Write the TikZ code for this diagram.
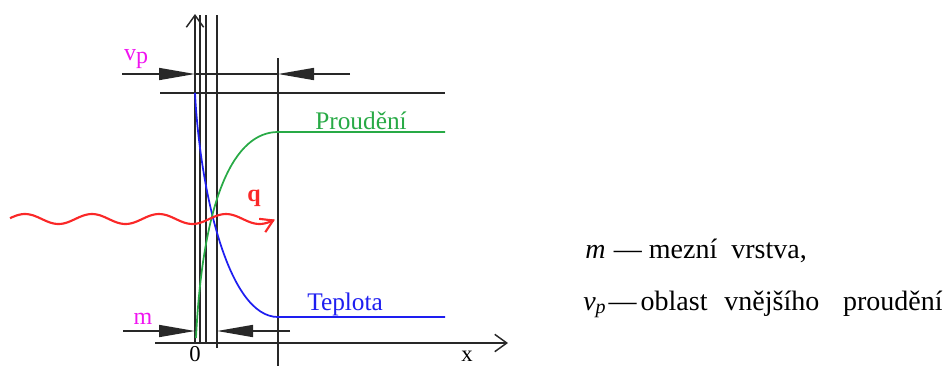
\documentclass[tikz,border=0pt]{standalone}
\usepackage{fontspec}
\setmainfont{Liberation Serif}
\usetikzlibrary{arrows.meta}
\definecolor{ink}{RGB}{40,40,40}
\definecolor{cgreen}{RGB}{40,170,70}
\definecolor{cblue}{RGB}{30,30,240}
\definecolor{cred}{RGB}{250,40,40}
\definecolor{cmag}{RGB}{240,20,240}
\tikzset{
  frame/.style={draw=ink, line width=1.2pt},
  fillarrow/.style={-{Triangle[length=27pt,width=9pt]}},
  openarrow/.style={-{Straight Barb[length=9pt,width=13pt,line width=1.1pt]}},
  lbl/.style={inner sep=0pt, font=\fontsize{16}{18}\selectfont},
  biglbl/.style={inner sep=0pt, anchor=base west, font=\fontsize{19}{22}\selectfont},
  legend/.style={inner sep=0pt, anchor=base west, font=\fontsize{21}{24}\selectfont},
}
\begin{document}
\begin{tikzpicture}[x=0.75pt,y=-0.75pt]
\useasboundingbox (0,0) rectangle (944,365);
% coordinates
\coordinate (ax0) at (195,343);
\coordinate (axT) at (195,14);
\coordinate (xax0) at (155,343);
\coordinate (xaxE) at (508,343);
% vertical lines
\draw[frame,openarrow] (ax0) -- (axT);
\draw[frame] (200,343) -- (200,15);
\draw[frame] (206,343) -- (206,15);
\draw[frame] (217,348) -- (217,15);
\draw[frame] (278,58) -- (278,370);
% x axis
\draw[frame,openarrow] (xax0) -- (xaxE);
% top horizontal lines
\coordinate (vpL) at (122,74);
\coordinate (vpA) at (195,74);
\coordinate (vpB) at (278,74);
\coordinate (vpR) at (350,74);
\draw[frame,fillarrow] (vpL) -- (vpA);
\draw[frame] (vpA) -- (vpB);
\draw[frame,fillarrow] (vpR) -- (vpB);
\draw[frame] (160,93) -- (445,93);
% bottom arrows (m)
\coordinate (mL) at (123,331);
\coordinate (mA) at (195,331);
\coordinate (mB) at (217,331);
\coordinate (mR) at (290,331);
\draw[frame,fillarrow] (mL) -- (mA);
\draw[frame,fillarrow] (mR) -- (mB);
% curves
\draw[cblue, line width=1.3pt] (195,93) .. controls (200,190) and (228,317) .. (278,317) -- (445,317);
\draw[cgreen, line width=1.3pt] (196,338) .. controls (203,195) and (235,132) .. (278,132) -- (445,132);
% red wave
\draw[cred, line width=1.6pt, -{Straight Barb[length=9pt,width=11pt]}]
  plot[domain=10:275, samples=120, smooth] (\x, {219 - 5*cos(5.3731*(\x-25))});
% labels
\node[biglbl, text=cgreen] (prl) at (315,129) {Proudění};
\node[biglbl, text=cblue] (tel) at (307,310) {Teplota};
\node[lbl, text=cred, font=\fontsize{18}{20}\selectfont\bfseries] (ql) at (254,198) {q};
\node[lbl, text=cmag, font=\fontsize{18}{20}\selectfont] (vpl) at (136,59) {v\raisebox{-0.35ex}{p}};
\node[lbl, text=cmag, font=\fontsize{18}{20}\selectfont] (ml) at (143,319) {m};
\node[lbl, font=\fontsize{17}{20}\selectfont] (zl) at (195,354) {0};
\node[lbl, font=\fontsize{17}{20}\selectfont] (xl) at (467,356) {x};
% legend
\node[legend] (leg1) at (585,258) {\textit{m}\hspace{0.3em}—\hspace{0.25em}mezní\hspace{0.5em}vrstva,};
\node[legend] (leg2) at (583,310) {\textit{v}\raisebox{-0.3ex}{\fontsize{15}{15}\selectfont\textit{p}}\hspace{0.1em}—\hspace{0.15em}oblast\hspace{0.6em}vnějšího\hspace{0.85em}proudění};
\end{tikzpicture}
\end{document}
